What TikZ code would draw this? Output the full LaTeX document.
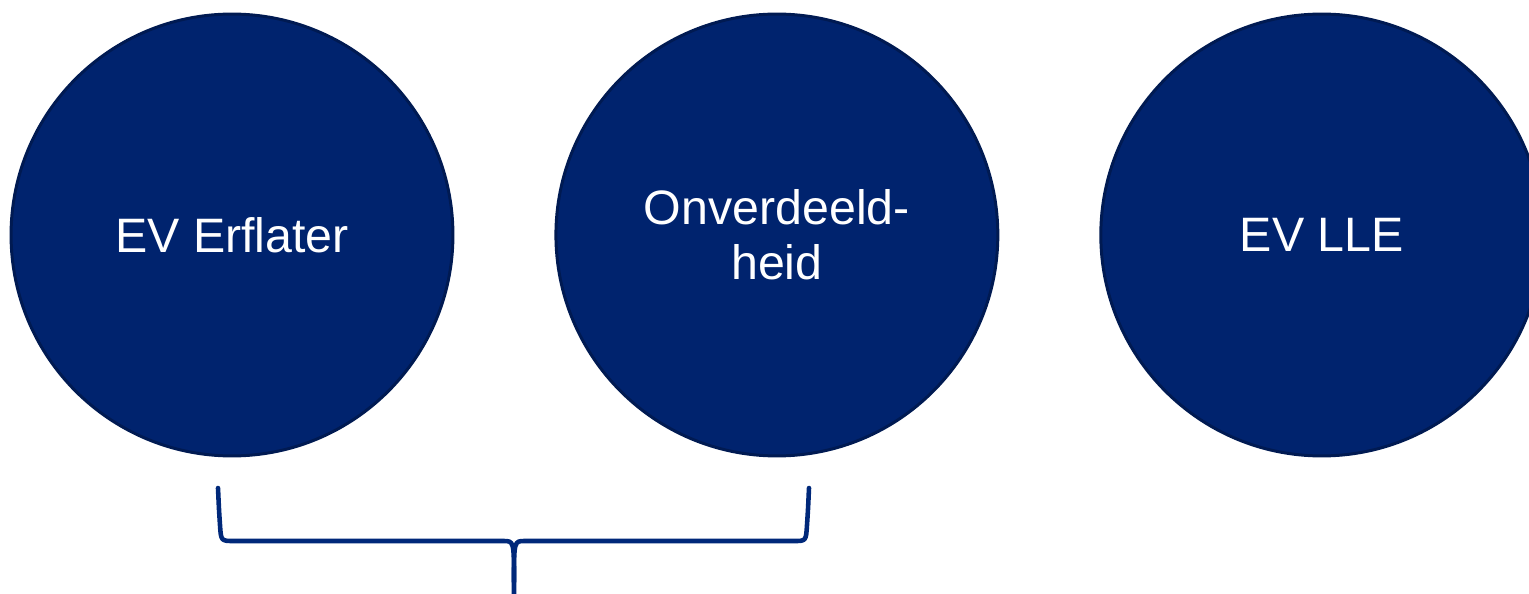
\documentclass[tikz,border=0pt]{standalone}
\usepackage{fontspec}
\setmainfont{Liberation Sans}
\usepackage{tikz}
\usetikzlibrary{positioning}
\usepackage{xcolor}
\definecolor{navyfill}{HTML}{00236E}
\definecolor{navyline}{HTML}{001A52}
\definecolor{bracecol}{HTML}{00287A}

\tikzset{
    bal/.style={circle, draw=navyline, line width=1.7pt, fill=navyfill,
        minimum size=8.84cm, inner sep=0pt, text=white, align=center,
        font=\fontsize{27.5pt}{31.3pt}\selectfont},
    accolade/.style={draw=bracecol, line width=2.6pt, line cap=round, line join=round}
}

\begin{document}
\begin{tikzpicture}[x=0.02cm, y=-0.02cm]
    \useasboundingbox (0,0) rectangle (1529,594);

    % drie vermogens
    \node[bal] (erflater) at (232,235) {EV Erflater};
    \node[bal, right=2cm of erflater] (onverdeeld) {Onverdeeld-\\heid};
    \node[bal, right=2cm of onverdeeld] (lle) {EV LLE};

    % accolade onder de eerste twee
    \coordinate (links) at (218,488);
    \coordinate (rechts) at (809,488);
    \coordinate (punt) at (514,594);
    \draw[accolade] (links) .. controls (219,510) .. (220,525) .. controls (221,541) .. (234,541)
        -- (503,541) .. controls (514,541) .. (514,582) -- (punt);
    \draw[accolade] (rechts) .. controls (808,510) .. (807,525) .. controls (806,541) .. (794,541)
        -- (525,541) .. controls (514,541) .. (514,582);
\end{tikzpicture}
\end{document}
